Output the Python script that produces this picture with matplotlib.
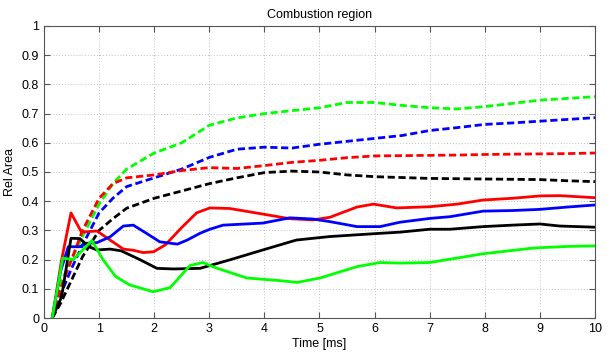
import matplotlib.pyplot as plt

plt.rcParams['font.family'] = ['Liberation Sans', 'DejaVu Sans']

# solid curves
t_red = [0.15, 0.32, 0.49, 0.68, 0.96, 1.2, 1.44, 1.62, 1.8, 1.99, 2.2, 2.5, 2.77, 3.01, 3.37, 3.97, 4.46, 4.88, 5.19, 5.68, 5.98, 6.4, 7.0, 7.5, 7.97, 8.5, 9.0, 9.36, 10.0]
red = [0.0, 0.2, 0.36, 0.294, 0.298, 0.267, 0.236, 0.232, 0.224, 0.227, 0.25, 0.31, 0.36, 0.377, 0.375, 0.356, 0.34, 0.336, 0.345, 0.38, 0.39, 0.377, 0.381, 0.39, 0.404, 0.41, 0.418, 0.419, 0.412]

t_blue = [0.15, 0.3, 0.44, 0.65, 0.77, 0.96, 1.2, 1.44, 1.62, 1.86, 2.1, 2.42, 2.6, 2.83, 3.01, 3.25, 3.97, 4.46, 4.88, 5.19, 5.68, 6.1, 6.46, 7.0, 7.37, 7.97, 8.5, 9.0, 9.5, 10.0]
blue = [0.0, 0.16, 0.244, 0.244, 0.256, 0.258, 0.278, 0.315, 0.318, 0.29, 0.261, 0.253, 0.267, 0.29, 0.304, 0.318, 0.325, 0.343, 0.339, 0.33, 0.313, 0.313, 0.328, 0.341, 0.347, 0.366, 0.368, 0.372, 0.38, 0.387]

t_black = [0.15, 0.32, 0.49, 0.65, 0.82, 0.96, 1.2, 1.4, 1.74, 2.05, 2.35, 2.83, 3.37, 3.97, 4.58, 5.19, 6.1, 6.46, 7.0, 7.37, 7.97, 8.5, 9.0, 9.36, 10.0]
black = [0.0, 0.073, 0.273, 0.272, 0.244, 0.233, 0.236, 0.23, 0.2, 0.17, 0.168, 0.17, 0.199, 0.233, 0.267, 0.279, 0.29, 0.294, 0.304, 0.304, 0.313, 0.318, 0.322, 0.315, 0.311]

t_green = [0.15, 0.34, 0.53, 0.87, 1.07, 1.3, 1.56, 1.98, 2.29, 2.65, 2.89, 3.07, 3.68, 4.28, 4.6, 5.01, 5.68, 6.1, 6.46, 7.0, 7.97, 8.9, 9.5, 10.0]
green = [0.0, 0.205, 0.2, 0.265, 0.2, 0.142, 0.113, 0.09, 0.104, 0.18, 0.19, 0.175, 0.137, 0.128, 0.122, 0.137, 0.176, 0.19, 0.188, 0.19, 0.22, 0.24, 0.245, 0.247]

# dashed curves
t_dash = [0.15, 0.3, 0.5, 0.7, 1.0, 1.25, 1.5, 2.0, 2.5, 3.0, 3.5, 4.0, 4.5, 5.0, 5.5, 6.0, 6.5, 7.0, 7.5, 8.0, 8.5, 9.0, 9.5, 10.0]
green_d = [0.0, 0.12, 0.2, 0.28, 0.39, 0.46, 0.51, 0.565, 0.6, 0.66, 0.685, 0.70, 0.71, 0.72, 0.738, 0.738, 0.728, 0.72, 0.716, 0.724, 0.735, 0.746, 0.752, 0.758]
blue_d = [0.0, 0.08, 0.17, 0.25, 0.36, 0.41, 0.45, 0.48, 0.51, 0.55, 0.578, 0.585, 0.582, 0.595, 0.605, 0.615, 0.625, 0.642, 0.652, 0.663, 0.668, 0.674, 0.68, 0.686]
red_d = [0.0, 0.1, 0.2, 0.3, 0.41, 0.46, 0.48, 0.49, 0.505, 0.515, 0.512, 0.522, 0.533, 0.54, 0.549, 0.555, 0.556, 0.557, 0.558, 0.56, 0.561, 0.562, 0.563, 0.565]
black_d = [0.0, 0.05, 0.13, 0.21, 0.3, 0.34, 0.376, 0.41, 0.435, 0.46, 0.48, 0.498, 0.503, 0.5, 0.49, 0.484, 0.481, 0.478, 0.477, 0.476, 0.475, 0.474, 0.47, 0.467]

fig = plt.figure(figsize=(6.07, 3.55), dpi=100)
ax = fig.add_axes([0.0725, 0.1042, 0.9077, 0.8226])

lw = 2.0
dash = (0, (2.6, 1.3))
ax.plot(t_dash, green_d, color='#00ff00', lw=lw, linestyle=dash)
ax.plot(t_dash, blue_d, color='#0000ff', lw=lw, linestyle=dash)
ax.plot(t_dash, red_d, color='#ff0000', lw=lw, linestyle=dash)
ax.plot(t_dash, black_d, color='black', lw=lw, linestyle=dash)
ax.plot(t_red, red, color='#ff0000', lw=lw)
ax.plot(t_blue, blue, color='#0000ff', lw=lw)
ax.plot(t_black, black, color='black', lw=lw)
ax.plot(t_green, green, color='#00ff00', lw=lw)

ax.set_xlim(0, 10)
ax.set_ylim(0, 1)
ax.set_xticks(range(0, 11))
ax.set_yticks([i / 10 for i in range(11)])
ax.set_yticklabels(['0', '0.1', '0.2', '0.3', '0.4', '0.5', '0.6', '0.7', '0.8', '0.9', '1'])
ax.grid(True, linestyle=(0, (1, 2)), color='#c0c0c0', lw=0.7)
ax.tick_params(direction='in', top=True, right=True, labelsize=9, length=4, color='#555555')
for s in ax.spines.values():
    s.set_color('#555555')

ax.set_xlabel('Time [ms]', fontsize=9, labelpad=2)
ax.set_ylabel('Rel Area', fontsize=9, labelpad=4)
ax.set_title('Combustion region', fontsize=9, pad=6)

fig.savefig('out.png', dpi=100)
